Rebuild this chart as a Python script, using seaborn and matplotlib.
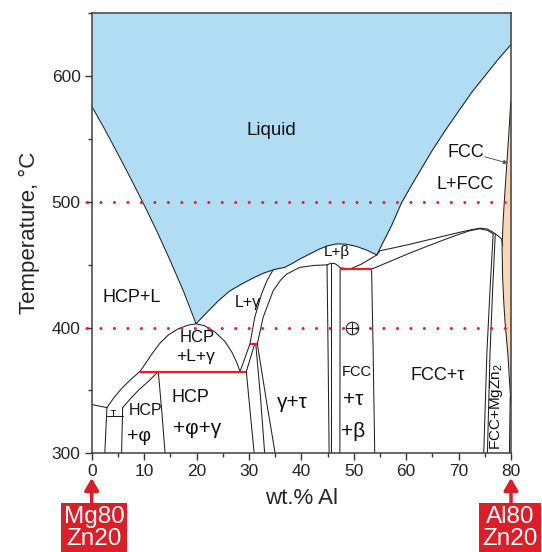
import numpy as np
import pandas as pd
import matplotlib
matplotlib.use("Agg")
import matplotlib.pyplot as plt
import seaborn as sns

# ---- phase-boundary data (x = wt.% Al, T = °C) ----
liquidus_x = [0, 2.5, 5, 7.5, 10, 12.5, 15, 17.5, 19.9, 21.5, 24.1, 26.3, 28.6, 31, 33, 35,
              36.8, 38.3, 39.7, 41.6, 43.5, 45, 46.7, 48.5, 50.5, 52.5, 54.4, 55.5, 57.2,
              59.1, 61, 63, 65, 67.5, 70, 72.5, 75, 77.5, 80]
liquidus_t = [576, 557.5, 538, 518, 497.5, 476, 453, 429, 403, 410, 421, 429, 434.6, 439.8,
              443.6, 446.3, 447.8, 451, 454.5, 458.5, 462.5, 465, 466.5, 466.3, 464.5, 461.5,
              457.7, 467, 481, 499, 513, 527, 541, 557, 572, 587, 600, 613, 625]

fcc_x = [79.95, 79.6, 79.2, 78.8, 78.5, 78.3, 78.4, 78.6, 78.85, 79.4, 79.8, 80.0]
fcc_t = [579, 555, 530, 505, 485, 464, 440, 422, 405, 379, 352, 338]

hcp_l_gamma_left = [(9.2, 365), (10.2, 371), (11.4, 378.5), (13, 387.5), (14.6, 394),
                    (16.5, 399), (18.3, 401.8), (19.9, 403)]
hcp_l_gamma_right = [(19.9, 403), (21.5, 401.5), (23.5, 396.5), (25.4, 389), (26.8, 380),
                     (27.7, 372), (28.3, 365)]
hcp_solidus = [(0, 338.8), (2.9, 336.3)]
hcp_l_lower = [(2.9, 336.3), (4.2, 344), (5.7, 351.5), (7.4, 358.5), (9.2, 365)]
hcp_phi_solvus = [(5.9, 336.3), (7.4, 343.5), (9.0, 350.5), (10.9, 357.5), (12.7, 365)]
hcp_phi_right = [(12.7, 365), (13.4, 332), (14.0, 300)]
box_left = [(2.9, 336.3), (2.5, 300)]
box_right = [(5.9, 336.3), (5.7, 300)]
box_bottom = [(2.9, 329.5), (5.9, 329.5)]
box_mark_v = [(4.0, 329.5), (4.0, 334.3)]
box_mark_h = [(3.6, 334.3), (4.5, 334.3)]

gamma_a = [(28.3, 365), (30.2, 387)]
gamma_b = [(29.5, 365), (31.1, 387)]
gamma_c = [(29.5, 365), (30.3, 330), (31.0, 300)]
gamma_d = [(31.3, 387), (32.2, 345), (33.0, 300)]
gamma_e = [(31.6, 387), (33.4, 340), (35.0, 300)]
gamma_left = [(30.2, 387), (31.1, 408), (32.4, 426.6), (33.4, 437), (34.6, 445.8)]
gamma_right = [(31.6, 387), (32.7, 408), (34.6, 429), (36, 437.5), (37.2, 442.5),
               (39.7, 447.8), (42.5, 449.4), (44.9, 449.8)]

tau_1 = [(44.9, 449.8), (45.1, 380), (45.3, 300)]
tau_2 = [(45.6, 451), (45.6, 380), (45.6, 300)]
tau_3 = [(47.4, 446.5), (47.35, 300)]
l_beta_lower = [(44.9, 449.8), (45.6, 451), (46.3, 451), (46.9, 449.5), (47.4, 447.5),
                (49.3, 446.5), (51.5, 450.5), (54.4, 457.7)]
fcc_tau_beta_right = [(53.4, 446.5), (53.7, 380), (54.0, 300)]
fcc_solvus_low = [(53.4, 446.5), (55, 449.2), (58, 454.5), (61, 459.7), (64, 464.6),
                  (67, 469.4), (69.6, 473.4), (72, 476.8), (74, 478.5), (75.5, 477.3),
                  (76.6, 474.5)]
fcc_solvus_up = [(54.4, 457.7), (55, 461), (60, 465.5), (65, 470.5), (70, 475.5),
                 (72.5, 477.8), (74.1, 479), (75.5, 478.3), (76.6, 475.7), (77.5, 473),
                 (78.2, 470.4), (78.4, 465)]
mgzn2_1 = [(76.6, 474.5), (76.0, 430), (75.4, 380), (74.8, 300)]
mgzn2_2 = [(77.0, 474.5), (76.5, 430), (76.0, 380), (75.5, 300)]
fcc_tail = [(79.85, 345), (79.7, 300)]

# invariant (three-phase) reactions
invariants = [(9.2, 29.5, 365), (30.2, 31.6, 387), (47.4, 53.4, 446.5)]
# isothermal sections
isotherms = [400, 500]

curves = {
    "liquidus": list(zip(liquidus_x, liquidus_t)),
    "fcc": list(zip(fcc_x, fcc_t)),
    "hlg_l": hcp_l_gamma_left, "hlg_r": hcp_l_gamma_right,
    "hcp_sol": hcp_solidus, "hcp_l_low": hcp_l_lower, "hcp_phi": hcp_phi_solvus,
    "hcp_phi_r": hcp_phi_right, "box_l": box_left, "box_r": box_right,
    "box_b": box_bottom, "box_mv": box_mark_v, "box_mh": box_mark_h,
    "ga": gamma_a, "gb": gamma_b, "gc": gamma_c, "gd": gamma_d, "ge": gamma_e,
    "gl": gamma_left, "gr": gamma_right,
    "t1": tau_1, "t2": tau_2, "t3": tau_3, "lb": l_beta_lower,
    "ftb": fcc_tau_beta_right, "fsl": fcc_solvus_low, "fsu": fcc_solvus_up,
    "mz1": mgzn2_1, "mz2": mgzn2_2, "ftail": fcc_tail,
}
rows = []
for name, pts in curves.items():
    for i, (x, t) in enumerate(pts):
        rows.append({"curve": name, "order": i, "x": x, "T": t})
df = pd.DataFrame(rows)

sns.set_theme(style="ticks")
plt.rcParams["font.family"] = ["Liberation Sans", "DejaVu Sans"]
plt.rcParams["mathtext.fontset"] = "custom"
plt.rcParams["mathtext.rm"] = "Liberation Sans"

fig = plt.figure(figsize=(5.42, 5.52), dpi=100)
ax = fig.add_axes([0.1692, 0.1788, 0.7736, 0.7975])

ax.set_xlim(0, 80)
ax.set_ylim(300, 650)

# fields
ax.fill_between(liquidus_x, liquidus_t, 650, color="#b0dcf4", lw=0, zorder=0)
ax.fill_betweenx(fcc_t, fcc_x, 80, color="#fcd5b4", lw=0, zorder=0)

sns.lineplot(data=df, x="x", y="T", units="curve", estimator=None, sort=False,
             color="#222222", lw=0.75, ax=ax, zorder=2)

for x0, x1, t in invariants:
    ax.plot([x0, x1], [t, t], color="#ee1c1c", lw=1.6, zorder=3, solid_capstyle="butt")

for t in isotherms:
    ax.plot([-0.9, 80], [t, t], color="#ee1c1c", lw=2.2, ls=(0, (0.01, 4.4)),
            dash_capstyle="round", clip_on=False, zorder=4)

# marker of the examined alloy
ax.plot([49.6], [400], marker="o", ms=9, mfc="none", mec="#222222", mew=0.8, zorder=5)
ax.plot([49.6], [400], marker="+", ms=9, mec="#222222", mew=0.8, zorder=5)

# phase field labels
def lab(x, t, s, size, **kw):
    ax.text(x, t, s, fontsize=size, ha="center", va="center", color="#111111", **kw)

lab(34.2, 557, "Liquid", 13.5)
lab(71.4, 539.5, "FCC", 13)
lab(71.2, 513.4, "L+FCC", 13)
lab(46.8, 460, "L+β", 11)
lab(7.7, 423.5, "HCP+L", 13)
lab(29.8, 419.6, "L+γ", 11.5)
lab(20.1, 391.7, "HCP", 12)
lab(19.9, 376.6, "+L+γ", 12.5)
lab(10.2, 334.4, "HCP", 11.5)
lab(9.0, 313, "+φ", 14)
lab(18.8, 344, "HCP", 13)
lab(20.1, 320, "+φ+γ", 15)
lab(38.2, 340, "γ+τ", 15)
lab(50.6, 364.8, "FCC", 10.5)
lab(49.9, 342.4, "+τ", 15)
lab(49.9, 317, "+β", 15)
lab(66.1, 361.5, "FCC+τ", 13)
lab(77.3, 337, "FCC+MgZn$_2$", 11, rotation=90)

ax.annotate("", xy=(79.4, 530.7), xytext=(75.0, 535.7),
            arrowprops=dict(arrowstyle="-|>", color="#555555", lw=0.7,
                            mutation_scale=6, shrinkA=0, shrinkB=0))

# axes styling
ax.set_xticks(np.arange(0, 81, 10))
ax.set_xticks(np.arange(0, 81, 5), minor=True)
ax.set_yticks([300, 400, 500, 600])
ax.set_yticks(np.arange(300, 651, 50), minor=True)
ax.tick_params(which="major", direction="out", length=5, width=1, labelsize=12.5,
               color="#333333", pad=3)
ax.tick_params(which="minor", direction="out", length=3, width=1, color="#333333")
for s in ax.spines.values():
    s.set_visible(True)
    s.set_color("#404040")
    s.set_linewidth(1.1)
ax.set_xlabel("wt.% Al", fontsize=16, labelpad=6)
ax.set_ylabel("Temperature, °C", fontsize=16, labelpad=8)

# composition end members
red = "#dc1e28"
for xd, xf, txt in [(0, 93.9 / 542, "Mg80\nZn20"), (80, 510 / 542, "Al80\nZn20")]:
    ax.annotate("", xy=(xd, 552 - 478), xytext=(xd, 552 - 503),
                xycoords=("data", "figure pixels"), textcoords=("data", "figure pixels"),
                arrowprops=dict(arrowstyle="-|>,head_width=0.35,head_length=0.6",
                                color=red, lw=2.5, shrinkA=0, shrinkB=0),
                annotation_clip=False)
    fig.text(xf, 1 - 528 / 552, txt, fontsize=17.5, color="white", ha="center",
             va="center", linespacing=1.0,
             bbox=dict(boxstyle="square,pad=0.12", fc=red, ec="none"))

fig.savefig("out.png", dpi=100)
